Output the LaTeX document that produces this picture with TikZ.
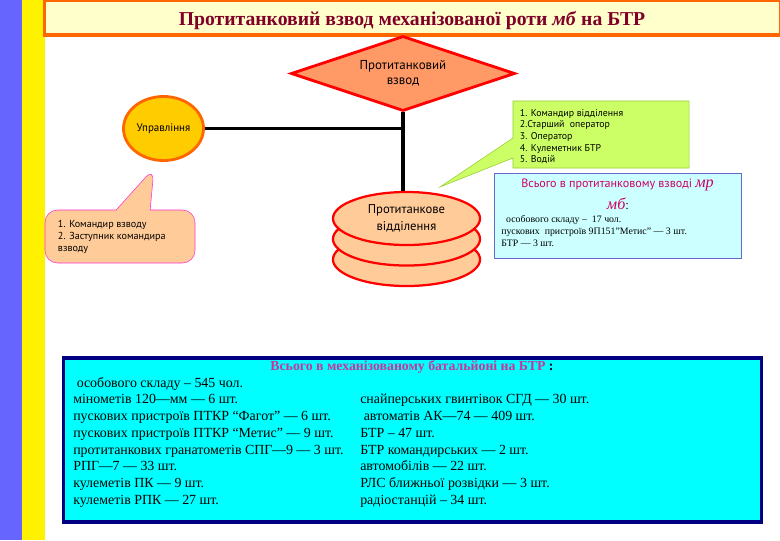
\documentclass[tikz,border=0pt]{standalone}
\usepackage{fontspec}
\setmainfont{Liberation Serif}
\newfontfamily\ptsans{PT Sans}
\usepackage{tikz}
\usetikzlibrary{shapes.geometric, shapes.callouts, positioning}

\definecolor{barblue}{HTML}{6666FF}
\definecolor{titlered}{HTML}{800028}
\definecolor{salmon}{HTML}{FF9966}
\definecolor{peach}{HTML}{FFCC99}
\definecolor{gold}{HTML}{FFCC00}
\definecolor{lime}{HTML}{CCFF66}
\definecolor{limeline}{HTML}{99CC33}
\definecolor{paleblue}{HTML}{CCFFFF}
\definecolor{boxblue}{HTML}{6666CC}
\definecolor{pinkline}{HTML}{FF33CC}
\definecolor{sumred}{HTML}{CC0066}
\definecolor{sumpink}{HTML}{CC3399}
\definecolor{aqua}{HTML}{00FFFF}
\definecolor{navy}{HTML}{000080}
\definecolor{titlefill}{HTML}{FFFFCC}
\definecolor{titleline}{HTML}{FF6600}

\begin{document}
\begin{tikzpicture}[
    x=0.025cm, y=-0.025cm,
    titlebox/.style={draw=titleline, line width=2.2pt, fill=titlefill,
                     minimum width=18.375cm, minimum height=0.875cm, inner sep=0},
    platoon/.style={diamond, aspect=3, draw=red, line width=2pt, fill=salmon, inner sep=0,
                    minimum width=5.6cm, minimum height=1.875cm, align=center,
                    font=\ptsans\fontsize{9.2}{10.9}\selectfont},
    command/.style={ellipse, draw=titleline, line width=2pt, fill=gold,
                    minimum width=2cm, minimum height=1.6cm, inner sep=0,
                    font=\ptsans\fontsize{7.8}{9}\selectfont},
    squad/.style={ellipse, draw=red, line width=1.6pt, fill=peach, inner sep=0,
                  minimum width=3.675cm, minimum height=1.325cm, align=center,
                  font=\ptsans\fontsize{9}{12}\selectfont},
    note/.style={rectangle callout, align=left, inner sep=0},
    link/.style={line width=2.2pt},
    listtext/.style={anchor=north west, align=left, inner sep=0,
                     font=\fontsize{9.9}{11.9}\selectfont}
]
\useasboundingbox (0,0) rectangle (780,540);
\fill[barblue] (0,0) rectangle (22,540);
\fill[yellow] (22,0) rectangle (45,540);

\node[titlebox] (head) at (412.5,17.5) {};
\node[font=\bfseries\fontsize{14}{16}\selectfont, text=titlered] (headtext) at (412,21)
    {Протитанковий взвод механізованої роти \textit{мб} на БТР};

\node[platoon] (plt) at (403,73.5) {Протитанковий\\взвод};
\node[command] (upr) at (163.5,128.5) {Управління};

\node[squad] (sq3) at (406.5,259.5) {};
\node[squad] (sq2) at (406.5,239) {};
\node[squad] (sq1) at (406.5,218.5) {Протитанкове\\відділення};

\draw[link] (plt.south) -- (plt.south |- sq1.north);
\draw[link] (upr.east) -- (upr.east -| plt.south);

\coordinate (uprtip) at (154,168);
\coordinate (sqtip) at (440,187);

\node[note, draw=pinkline, fill=peach, rounded corners=9pt,
      minimum width=3.75cm, minimum height=1.325cm,
      callout absolute pointer={(uprtip)}, callout pointer width=0.85cm,
      font=\ptsans\fontsize{7.2}{8.5}\selectfont] (uprnote) at (120,236.5)
    {\parbox{3.1cm}{1. Командир взводу\\2. Заступник командира\\взводу}};

\node[note, draw=limeline, fill=lime,
      minimum width=4.4cm, minimum height=1.675cm,
      callout absolute pointer={(sqtip)}, callout pointer width=0.5cm,
      font=\ptsans\fontsize{7}{8.3}\selectfont] (sqnote) at (601,134.5)
    {\parbox{4.05cm}{\vspace{3pt}1. Командир відділення\\2.Старший\ \ оператор\\3. Оператор\\4. Кулеметник БТР\\5. Водій}};

\node[draw=boxblue, fill=paleblue, minimum width=6.175cm, minimum height=2.125cm,
      inner sep=0] (pltsum) at (617.5,215.5) {};
\node[font=\ptsans\fontsize{8.6}{15.6}\selectfont, text=sumred, align=center, inner sep=0]
    (pltsumhead) at (617.5,194)
    {Всього в протитанковому взводі {\rmfamily\itshape\fontsize{11.5}{12}\selectfont мр}\\
     {\rmfamily\itshape\fontsize{11.5}{12}\selectfont мб}\textcolor{black}{:}};
\node[listtext, font=\fontsize{7}{8.5}\selectfont] (pltsumtext) at (501,215)
    {\ \ особового складу –\ \ 17 чол.\\
     пускових\ \ пристроїв 9П151"Метис" — 3 шт.\\
     БТР — 3 шт.};

\node[draw=navy, line width=2.2pt, fill=aqua, minimum width=17.425cm,
      minimum height=4.1cm, inner sep=0] (bat) at (412.5,440) {};
\node[font=\bfseries\fontsize{9.8}{11}\selectfont, text=sumpink, inner sep=0] (bathead)
    at (412,367) {Всього в механізованому батальйоні на БТР \textcolor{black}{:}};
\node[listtext] (batleft) at (73,377)
    {\ особового складу – 545 чол.\\
     мінометів 120—мм — 6 шт.\\
     пускових пристроїв ПТКР “Фагот” — 6 шт.\\
     пускових пристроїв ПТКР “Метис” — 9 шт.\\
     протитанкових гранатометів СПГ—9 — 3 шт.\\
     РПГ—7 — 33 шт.\\
     кулеметів ПК — 9 шт.\\
     кулеметів РПК — 27 шт.};
\node[listtext] (batright) at (360,394)
    {снайперських гвинтівок СГД — 30 шт.\\
     \ автоматів АК—74 — 409 шт.\\
     БТР – 47 шт.\\
     БТР командирських — 2 шт.\\
     автомобілів — 22 шт.\\
     РЛС ближньої розвідки — 3 шт.\\
     радіостанцій – 34 шт.};
\end{tikzpicture}
\end{document}
